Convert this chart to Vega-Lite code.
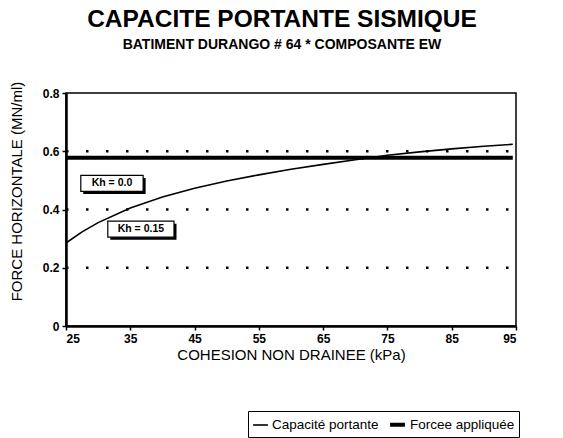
{
  "$schema": "https://vega.github.io/schema/vega-lite/v6.json",
  "width": 450,
  "height": 233,
  "autosize": {"type": "none"},
  "padding": {"left": 66, "top": 93, "right": 47, "bottom": 112},
  "background": "white",
  "config": {
    "font": "Liberation Sans",
    "view": {"stroke": "black", "strokeWidth": 1.5},
    "axis": {"domainColor": "black", "tickColor": "black", "labelColor": "black", "titleColor": "black", "grid": false}
  },
  "title": {
    "text": "CAPACITE PORTANTE SISMIQUE",
    "subtitle": "BATIMENT DURANGO # 64 * COMPOSANTE EW",
    "font": "Liberation Sans",
    "fontSize": 24.5,
    "fontWeight": "bold",
    "subtitleFont": "Liberation Sans",
    "subtitleFontSize": 14,
    "subtitleFontWeight": "bold",
    "subtitleColor": "black",
    "color": "black",
    "anchor": "middle",
    "dx": -9,
    "offset": 28,
    "subtitlePadding": 6
  },
  "datasets": {
    "curve": [
      {"c": 25, "f": 0.285, "serie": "Capacité portante"},
      {"c": 27.5, "f": 0.323, "serie": "Capacité portante"},
      {"c": 30, "f": 0.355, "serie": "Capacité portante"},
      {"c": 35, "f": 0.405, "serie": "Capacité portante"},
      {"c": 40, "f": 0.443, "serie": "Capacité portante"},
      {"c": 45, "f": 0.473, "serie": "Capacité portante"},
      {"c": 50, "f": 0.498, "serie": "Capacité portante"},
      {"c": 55, "f": 0.519, "serie": "Capacité portante"},
      {"c": 60, "f": 0.538, "serie": "Capacité portante"},
      {"c": 65, "f": 0.555, "serie": "Capacité portante"},
      {"c": 70, "f": 0.571, "serie": "Capacité portante"},
      {"c": 75, "f": 0.586, "serie": "Capacité portante"},
      {"c": 80, "f": 0.598, "serie": "Capacité portante"},
      {"c": 85, "f": 0.608, "serie": "Capacité portante"},
      {"c": 90, "f": 0.617, "serie": "Capacité portante"},
      {"c": 94.5, "f": 0.624, "serie": "Capacité portante"},
      {"c": 25, "f": 0.578, "serie": "Forcee appliquée"},
      {"c": 94.5, "f": 0.578, "serie": "Forcee appliquée"}
    ],
    "grid": [{"g": 0.2}, {"g": 0.4}, {"g": 0.6}],
    "boxes": [
      {"x1": 27.3, "x2": 37.0, "y1": 0.517, "y2": 0.462, "xm": 32.15, "ym": 0.49, "lab": "Kh = 0.0"},
      {"x1": 31.5, "x2": 41.8, "y1": 0.36, "y2": 0.305, "xm": 36.65, "ym": 0.333, "lab": "Kh = 0.15"}
    ]
  },
  "layer": [
    {
      "data": {"name": "grid"},
      "mark": {"type": "rule", "color": "black", "strokeWidth": 2.5, "strokeDash": [2.5, 17.5]},
      "encoding": {
        "y": {"field": "g", "type": "quantitative", "scale": {"domain": [0, 0.8]}},
        "x": {"datum": 25, "type": "quantitative", "scale": {"domain": [25, 95]}},
        "x2": {"datum": 95}
      }
    },
    {
      "data": {"name": "curve"},
      "mark": {"type": "line", "color": "black"},
      "encoding": {
        "x": {
          "field": "c", "type": "quantitative",
          "scale": {"domain": [25, 95], "nice": false, "zero": false},
          "axis": {
            "title": "COHESION NON DRAINEE (kPa)",
            "titleFontSize": 15, "titleFontWeight": "normal", "titlePadding": 3,
            "values": [25, 30, 35, 40, 45, 50, 55, 60, 65, 70, 75, 80, 85, 90, 95],
            "labelExpr": "(datum.value - 25) % 10 == 0 ? datum.label : ''",
            "labelFontSize": 12, "labelFontWeight": "bold", "labelPadding": 3,
            "domainWidth": 2.5, "tickSize": 4, "tickWidth": 1.5
          }
        },
        "y": {
          "field": "f", "type": "quantitative",
          "scale": {"domain": [0, 0.8], "nice": false},
          "axis": {
            "title": "FORCE HORIZONTALE (MN/ml)",
            "titleFontSize": 15, "titleFontWeight": "normal",
            "titleX": -42, "titleY": 98, "titleBaseline": "bottom",
            "values": [0, 0.1, 0.2, 0.3, 0.4, 0.5, 0.6, 0.7, 0.8],
            "labelExpr": "round(datum.value * 10) % 2 == 0 ? (datum.value == 0 ? '0' : format(datum.value, '.1f')) : ''",
            "labelFontSize": 12, "labelFontWeight": "bold", "labelPadding": 3,
            "domainWidth": 2.5, "tickSize": 4, "tickWidth": 1.5
          }
        },
        "strokeWidth": {
          "field": "serie", "type": "nominal",
          "scale": {"domain": ["Capacité portante", "Forcee appliquée"], "range": [1.6, 4]},
          "legend": {
            "title": null, "orient": "none", "direction": "horizontal",
            "legendX": 182, "legendY": 318,
            "strokeColor": "black", "padding": 4,
            "labelFontSize": 13.5, "labelColor": "black", "labelFont": "Liberation Sans",
            "symbolType": "stroke", "symbolStrokeColor": "black", "symbolSize": 220,
            "columnPadding": 3, "labelOffset": 3
          }
        },
        "detail": {"field": "serie"}
      }
    },
    {
      "data": {"name": "boxes"},
      "mark": {"type": "rect", "color": "black", "xOffset": 2.5, "yOffset": 2.5, "x2Offset": 2.5, "y2Offset": 2.5},
      "encoding": {
        "x": {"field": "x1", "type": "quantitative"},
        "x2": {"field": "x2"},
        "y": {"field": "y1", "type": "quantitative"},
        "y2": {"field": "y2"}
      }
    },
    {
      "data": {"name": "boxes"},
      "mark": {"type": "rect", "fill": "white", "stroke": "black", "strokeWidth": 1.2},
      "encoding": {
        "x": {"field": "x1", "type": "quantitative"},
        "x2": {"field": "x2"},
        "y": {"field": "y1", "type": "quantitative"},
        "y2": {"field": "y2"}
      }
    },
    {
      "data": {"name": "boxes"},
      "mark": {"type": "text", "fontSize": 10.5, "fontWeight": "bold", "color": "black", "font": "Liberation Sans"},
      "encoding": {
        "x": {"field": "xm", "type": "quantitative"},
        "y": {"field": "ym", "type": "quantitative"},
        "text": {"field": "lab"}
      }
    }
  ]
}
